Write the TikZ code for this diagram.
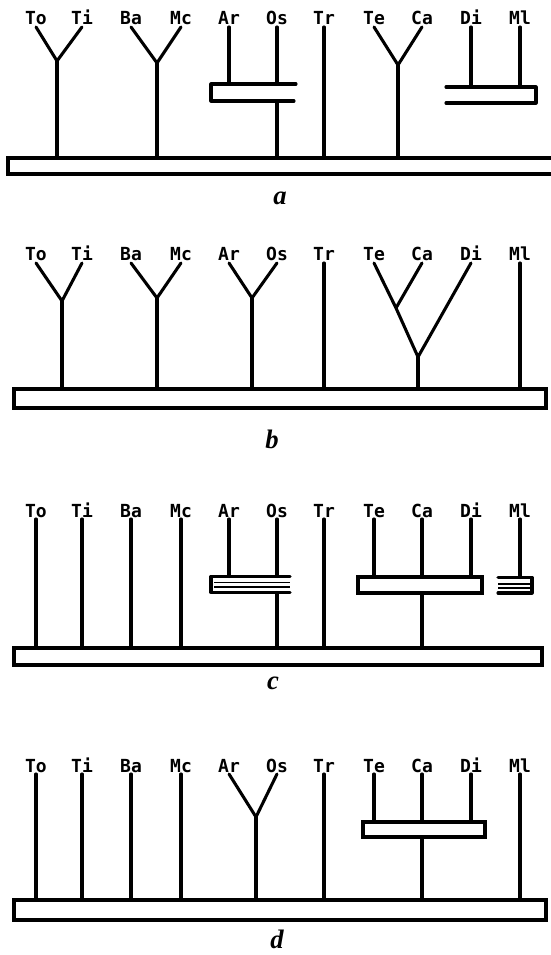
\documentclass[tikz,border=0pt]{standalone}
\usepackage{fontspec}
\newfontfamily\taxfont{DejaVu Sans Mono}
\newfontfamily\panfont{Liberation Serif}
\usepackage{tikz}
\usetikzlibrary{positioning}
\tikzset{
  taxlbl/.style={font=\taxfont\bfseries\fontsize{13.5}{15}\selectfont,
    inner sep=0pt, outer ysep=1.5pt, anchor=base,
    text height=9.5pt, text depth=0pt},
  panlbl/.style={font=\panfont\bfseries\itshape\fontsize{20}{24}\selectfont,
    inner sep=0pt},
  basebar/.style={draw, line width=2.3pt, inner sep=0pt, outer sep=0pt},
  grpbox/.style={draw, line width=2.3pt, inner sep=0pt, outer sep=0pt},
  br/.style={line width=2.3pt, line cap=round, line join=round},
  thinbr/.style={line width=1.4pt},
}

\begin{document}
\begin{tikzpicture}[x=0.75pt, y=-0.75pt]
  \useasboundingbox (0,0) rectangle (550,955);
  % Labels, the same row in every panel
  \foreach \p/\yb in {a/25, b/261, c/517, d/772}
    \foreach \n/\xl in {To/36, Ti/82, Ba/131, Mc/181, Ar/229, Os/277,
                        Tr/324, Te/374, Ca/422, Di/471, Ml/520}
      \node[taxlbl] (\p\n) at (\xl,\yb) {\n};

  % Panel a
  \node[basebar, minimum width=414pt, minimum height=12pt] (aBase) at (284,166) {};
  \coordinate (aJ1) at (57,61);
  \coordinate (aJ2) at (157,63);
  \coordinate (aJ3) at (398,65);
  \coordinate (aBrT) at (211,84);
  \coordinate (aBrB) at (211,101);
  \coordinate (aBr2T) at (536,87);
  \coordinate (aBr2B) at (536,103);
  \draw[br] (aTo.south) -- (aJ1) -- (aTi.south);
  \draw[br] (aJ1) -- (aJ1 |- aBase.north);
  \draw[br] (aBa.south) -- (aJ2) -- (aMc.south);
  \draw[br] (aJ2) -- (aJ2 |- aBase.north);
  \draw[br] (296,84) -- (aBrT) -- (aBrB) -- (294,101);
  \draw[br] (aAr.south) -- (aAr |- aBrT);
  \draw[br] (aOs.south) -- (aOs |- aBrT);
  \draw[br] (aOs |- aBrB) -- (aOs |- aBase.north);
  \draw[br] (aTr.south) -- (aTr |- aBase.north);
  \draw[br] (aTe.south) -- (aJ3) -- (aCa.south);
  \draw[br] (aJ3) -- (aJ3 |- aBase.north);
  \draw[br] (446,87) -- (aBr2T) -- (aBr2B) -- (446,103);
  \draw[br] (aDi.south) -- (aDi |- aBr2T);
  \draw[br] (aMl.south) -- (aMl |- aBr2T);
  \node[panlbl] (capA) at (280,198) {a};

  % Panel b
  \node[basebar, minimum width=399pt, minimum height=14.25pt] (bBase) at (280,398.5) {};
  \coordinate (bJ1) at (62,301);
  \coordinate (bJ2) at (157,298);
  \coordinate (bJ3) at (252,298);
  \coordinate (bJ4) at (396,308);
  \coordinate (bJ5) at (418,357);
  \draw[br] (bTo.south) -- (bJ1) -- (bTi.south);
  \draw[br] (bJ1) -- (bJ1 |- bBase.north);
  \draw[br] (bBa.south) -- (bJ2) -- (bMc.south);
  \draw[br] (bJ2) -- (bJ2 |- bBase.north);
  \draw[br] (bAr.south) -- (bJ3) -- (bOs.south);
  \draw[br] (bJ3) -- (bJ3 |- bBase.north);
  \draw[br] (bTr.south) -- (bTr |- bBase.north);
  \draw[br] (bTe.south) -- (bJ4) -- (bJ5) -- (bDi.south);
  \draw[br] (bCa.south) -- (bJ4);
  \draw[br] (bJ5) -- (bJ5 |- bBase.north);
  \draw[br] (bMl.south) -- (bMl |- bBase.north);
  \node[panlbl] (capB) at (272,439) {b};

  % Panel c
  \node[basebar, minimum width=396pt, minimum height=12.75pt] (cBase) at (278,656.5) {};
  \node[grpbox, minimum width=93pt, minimum height=12pt] (cTCD) at (420,585) {};
  \coordinate (cBrT) at (211,576.5);
  \coordinate (cBrB) at (211,592.5);
  \coordinate (cBr2T) at (532,577.5);
  \coordinate (cBr2B) at (532,593);
  \draw[br] (cTo.south) -- (cTo |- cBase.north);
  \draw[br] (cTi.south) -- (cTi |- cBase.north);
  \draw[br] (cBa.south) -- (cBa |- cBase.north);
  \draw[br] (cMc.south) -- (cMc |- cBase.north);
  \draw[br] (290,576.5) -- (cBrT) -- (cBrB) -- (290,592.5);
  \draw[thinbr] (214,582.5) -- (290,582.5);
  \draw[thinbr] (214,587) -- (290,587);
  \draw[br] (cAr.south) -- (cAr |- cBrT);
  \draw[br] (cOs.south) -- (cOs |- cBrT);
  \draw[br] (cOs |- cBrB) -- (cOs |- cBase.north);
  \draw[br] (cTr.south) -- (cTr |- cBase.north);
  \draw[br] (cTe.south) -- (cTe |- cTCD.north);
  \draw[br] (cCa.south) -- (cCa |- cTCD.north);
  \draw[br] (cDi.south) -- (cDi |- cTCD.north);
  \draw[br] (cCa |- cTCD.south) -- (cCa |- cBase.north);
  \draw[br] (498,577.5) -- (cBr2T) -- (cBr2B) -- (498,593);
  \draw[thinbr] (498,584) -- (530,584);
  \draw[thinbr] (498,588.3) -- (530,588.3);
  \draw[br] (cMl.south) -- (cMl |- cBr2T);
  \node[panlbl] (capC) at (273,683) {c};

  % Panel d
  \node[basebar, minimum width=399pt, minimum height=15pt] (dBase) at (280,910) {};
  \node[grpbox, minimum width=91.5pt, minimum height=11.25pt] (dTCD) at (424,829.5) {};
  \coordinate (dJ1) at (256,817);
  \draw[br] (dTo.south) -- (dTo |- dBase.north);
  \draw[br] (dTi.south) -- (dTi |- dBase.north);
  \draw[br] (dBa.south) -- (dBa |- dBase.north);
  \draw[br] (dMc.south) -- (dMc |- dBase.north);
  \draw[br] (dAr.south) -- (dJ1) -- (dOs.south);
  \draw[br] (dJ1) -- (dJ1 |- dBase.north);
  \draw[br] (dTr.south) -- (dTr |- dBase.north);
  \draw[br] (dTe.south) -- (dTe |- dTCD.north);
  \draw[br] (dCa.south) -- (dCa |- dTCD.north);
  \draw[br] (dDi.south) -- (dDi |- dTCD.north);
  \draw[br] (dCa |- dTCD.south) -- (dCa |- dBase.north);
  \draw[br] (dMl.south) -- (dMl |- dBase.north);
  \node[panlbl] (capD) at (277,939) {d};
\end{tikzpicture}
\end{document}
